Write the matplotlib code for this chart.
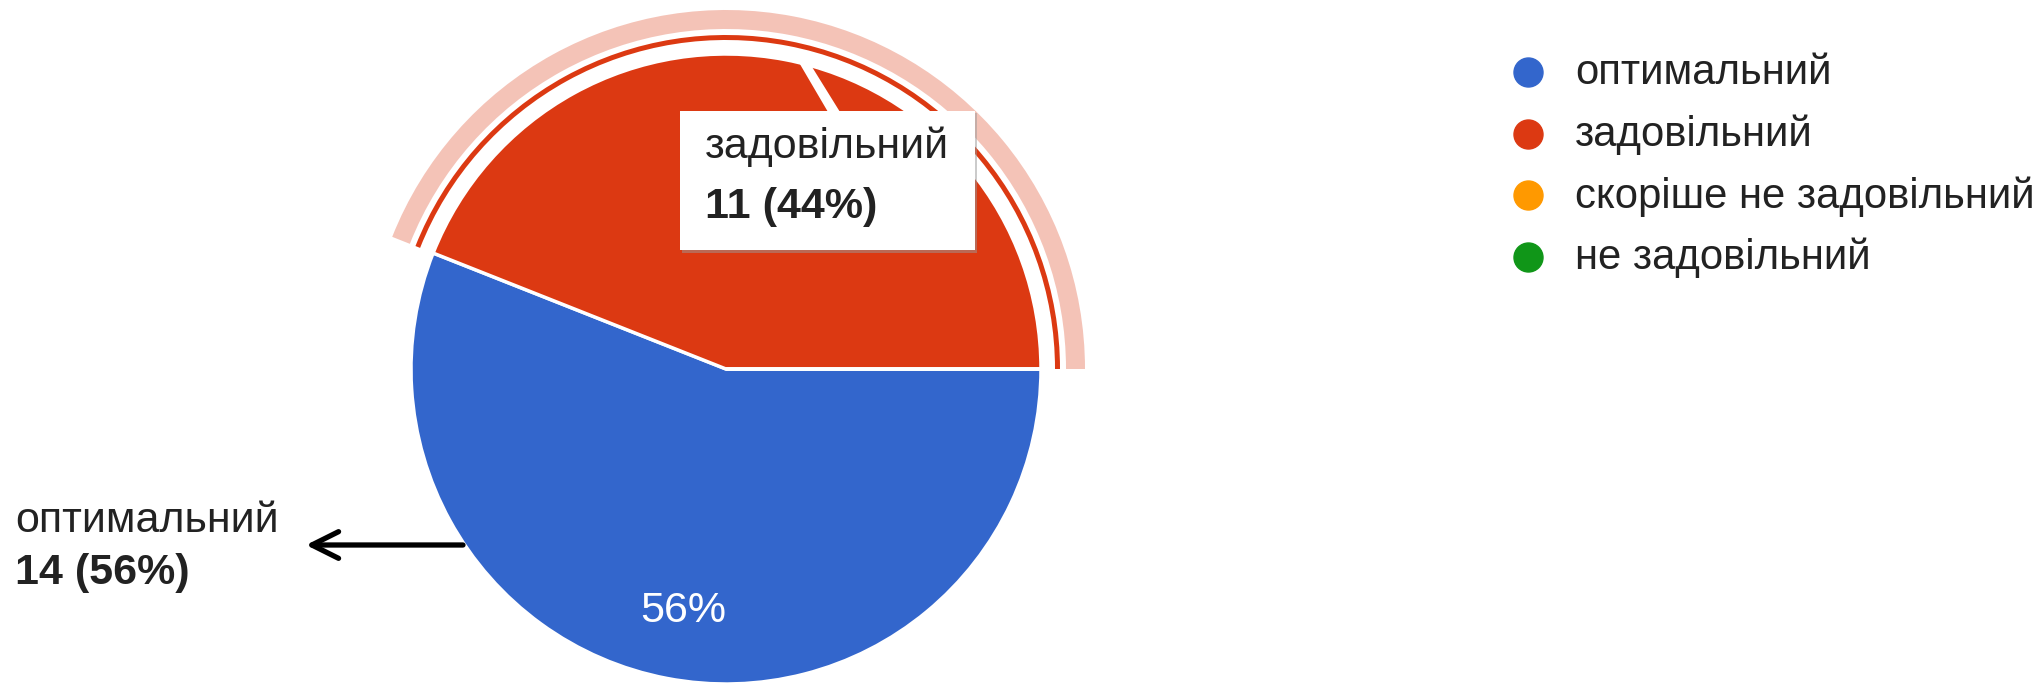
import matplotlib
matplotlib.use("Agg")
import matplotlib.pyplot as plt
from matplotlib.patches import Wedge, Rectangle, Polygon

# ---- data ----
categories = ["оптимальний", "задовільний", "скоріше не задовільний", "не задовільний"]
counts = [14, 11, 0, 0]
colors = ["#3366CC", "#DC3912", "#FF9900", "#109618"]

W, H = 2044, 685
plt.rcParams['font.family'] = ['Liberation Sans', 'DejaVu Sans']

fig = plt.figure(figsize=(W / 100, H / 100), dpi=100)
ax = fig.add_axes([0, 0, 1, 1])

def Y(y):
    return H - y

cx, cy, R = 726, Y(369), 315
total = sum(counts)
pcts = [c / total * 100 for c in counts]

wedges, _ = ax.pie(counts, colors=colors, startangle=0, counterclock=False,
                   center=(cx, cy), radius=R,
                   wedgeprops=dict(edgecolor='white', linewidth=2.5))

# highlight ring around the selected slice (задовільний)
start = 0.0
end = pcts[1] / 100 * 360
ax.add_patch(Wedge((cx, cy), 359, start, end, width=19, facecolor=colors[1],
                   alpha=0.3, lw=0))
ax.add_patch(Wedge((cx, cy), 334, start, end, width=5, facecolor=colors[1], lw=0))

# tooltip box with tail
ax.add_patch(Polygon([(794, Y(54)), (804, Y(54)), (840, Y(112)), (828, Y(112))],
                     closed=True, facecolor='white', lw=0, zorder=4))
ax.add_patch(Rectangle((682, Y(253)), 295, 140, facecolor='#999999', alpha=0.5,
                       lw=0, zorder=4))
ax.add_patch(Rectangle((680, Y(250)), 295, 139, facecolor='white', lw=0, zorder=5))
ax.text(705, Y(158), categories[1], fontsize=31, color='#222222', zorder=6)
ax.text(705, Y(218), f"{counts[1]} ({pcts[1]:.0f}%)", fontsize=31,
        fontweight='bold', color='#222222', zorder=6)

# in-slice percentage
ax.text(683, Y(622), f"{pcts[0]:.0f}%", fontsize=31, color='white',
        ha='center', va='baseline', zorder=6)

# outside label with arrow
ax.text(15, Y(532), categories[0], fontsize=31, color='#222222')
ax.text(15, Y(584), f"{counts[0]} ({pcts[0]:.0f}%)", fontsize=31,
        fontweight='bold', color='#222222')
ax.annotate('', xy=(306, Y(545)), xytext=(463, Y(545)),
            arrowprops=dict(arrowstyle='->', lw=3.8, color='black',
                            mutation_scale=48, shrinkA=0, shrinkB=0))

# legend
leg_x, leg_y0, leg_dy = 1528, 72, 61.7
for i, (name, col) in enumerate(zip(categories, colors)):
    yy = Y(leg_y0 + i * leg_dy)
    ax.scatter([leg_x], [yy], s=(29 * 0.72) ** 2, color=col, zorder=6)
    ax.text(1575, yy - 1, name, fontsize=30.2, color='#222222', va='center',
            zorder=6)

ax.set_xlim(0, W)
ax.set_ylim(0, H)
ax.set_aspect('auto')
ax.axis('off')

fig.savefig("out.png", dpi=100, facecolor='white')
